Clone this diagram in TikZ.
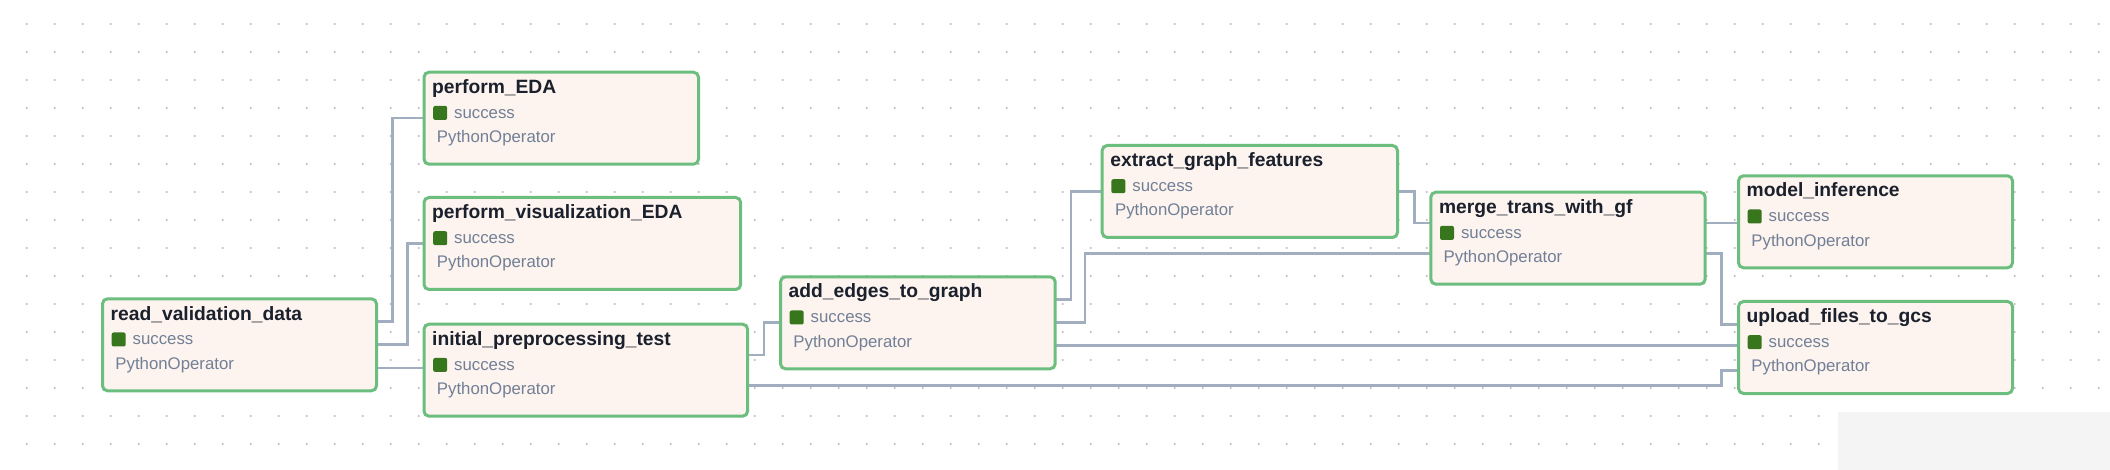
\documentclass[tikz,border=0pt]{standalone}
\usepackage{fontspec}
\setmainfont{Liberation Sans}
\usetikzlibrary{calc}
\pgfdeclarelayer{dotslayer}
\pgfdeclarelayer{edgelayer}
\pgfsetlayers{dotslayer,edgelayer,main}
\definecolor{boxborder}{RGB}{108,190,126}
\definecolor{boxfill}{RGB}{253,243,239}
\definecolor{succ}{RGB}{56,118,29}
\definecolor{edgec}{RGB}{160,174,192}
\definecolor{titlec}{RGB}{26,32,44}
\definecolor{bodyc}{RGB}{113,128,150}
\definecolor{dotc}{RGB}{188,188,188}
\definecolor{panelc}{RGB}{244,244,244}
\tikzset{
  taskbox/.style={draw=boxborder, fill=boxfill, line width=3pt, rounded corners=5pt,
    minimum height=92pt, inner sep=0pt, outer sep=0pt, anchor=north west},
  titletxt/.style={anchor=base west, inner sep=0pt, text=titlec,
    font=\fontsize{19.25}{22}\selectfont\bfseries},
  bodytxt/.style={anchor=base west, inner sep=0pt, text=bodyc,
    font=\fontsize{16.8}{20}\selectfont},
  statesq/.style={fill=succ, rounded corners=2pt, minimum size=14pt, inner sep=0pt,
    anchor=north west},
  conn/.style={draw=edgec, line width=2.6pt, line join=miter},
}
\newcommand{\dagtask}[5]{%
  \node[taskbox, minimum width=#4pt] (#1) at (#2, #3) {};
  \node[titletxt] (#1-t) at ([shift={(8,21.2)}]#1.north west) {#5};
  \node[statesq] (#1-s) at ([shift={(9,33.5)}]#1.north west) {};
  \node[bodytxt] (#1-st) at ([shift={(30,46)}]#1.north west) {success};
  \node[bodytxt] (#1-op) at ([shift={(12.7,70.3)}]#1.north west) {PythonOperator};
}
\begin{document}
\begin{tikzpicture}[x=1pt, y=-1pt]
\useasboundingbox (0,0) rectangle (2110,470);
\begin{pgfonlayer}{dotslayer}
  \fill[white] (0,0) rectangle (2110,470);
  \foreach \i in {0,...,74} {
    \foreach \j in {0,...,15} {
      \fill[dotc] (26.7+28*\i, 24+28*\j) circle (1.1);
    }
  }
  \fill[panelc] (1838,412.3) rectangle (2110,470);
\end{pgfonlayer}

\dagtask{rvd}{102.5}{298.8}{274}{read\_validation\_data}
\dagtask{peda}{424}{72.2}{274.5}{perform\_EDA}
\dagtask{pvis}{424}{197.5}{316.7}{perform\_visualization\_EDA}
\dagtask{ipt}{424}{324.2}{323.6}{initial\_preprocessing\_test}
\dagtask{aeg}{780.5}{276.8}{274.7}{add\_edges\_to\_graph}
\dagtask{egf}{1102.2}{145.5}{295.3}{extract\_graph\_features}
\dagtask{mtg}{1430.8}{192.2}{274.4}{merge\_trans\_with\_gf}
\dagtask{mi}{1738.5}{175.8}{274}{model\_inference}
\dagtask{uf}{1738.5}{301.5}{274}{upload\_files\_to\_gcs}

% ports
\coordinate (rvd-o1) at ($(rvd.north east)!.25!(rvd.south east)$);
\coordinate (rvd-o2) at ($(rvd.north east)!.5!(rvd.south east)$);
\coordinate (rvd-o3) at ($(rvd.north east)!.75!(rvd.south east)$);
\coordinate (ipt-o1) at ($(ipt.north east)!.333!(ipt.south east)$);
\coordinate (ipt-o2) at ($(ipt.north east)!.667!(ipt.south east)$);
\coordinate (aeg-o1) at ($(aeg.north east)!.25!(aeg.south east)$);
\coordinate (aeg-o2) at ($(aeg.north east)!.5!(aeg.south east)$);
\coordinate (aeg-o3) at ($(aeg.north east)!.75!(aeg.south east)$);
\coordinate (mtg-o1) at ($(mtg.north east)!.333!(mtg.south east)$);
\coordinate (mtg-o2) at ($(mtg.north east)!.667!(mtg.south east)$);
\coordinate (mtg-i1) at ($(mtg.north west)!.333!(mtg.south west)$);
\coordinate (mtg-i2) at ($(mtg.north west)!.667!(mtg.south west)$);
\coordinate (uf-i1) at ($(uf.north west)!.25!(uf.south west)$);
\coordinate (uf-i3) at ($(uf.north west)!.75!(uf.south west)$);

\begin{pgfonlayer}{edgelayer}
  \draw[conn] (rvd-o1) -| ([xshift=-31.3pt]peda.west) -- (peda.west);
  \draw[conn] (rvd-o2) -| ([xshift=-16.3pt]pvis.west) -- (pvis.west);
  \draw[conn] (rvd-o3) -- (rvd-o3 -| ipt.west);
  \draw[conn] (ipt-o1) -| ([xshift=-16.5pt]aeg.west) -- (aeg.west);
  \draw[conn] (ipt-o2) -| ([xshift=-16.8pt]uf-i3) -- (uf-i3);
  \draw[conn] (aeg-o1) -| ([xshift=-31.2pt]egf.west) -- (egf.west);
  \draw[conn] (aeg-o2) -| ([xshift=-345.8pt]mtg-i2) -- (mtg-i2);
  \draw[conn] (aeg-o3) -- (aeg-o3 -| uf.west);
  \draw[conn] (egf.east) -| ([xshift=-16.5pt]mtg-i1) -- (mtg-i1);
  \draw[conn] (mtg-o1) -- (mtg-o1 -| mi.west);
  \draw[conn] (mtg-o2) -| ([xshift=-16.8pt]uf-i1) -- (uf-i1);
\end{pgfonlayer}
\end{tikzpicture}
\end{document}
